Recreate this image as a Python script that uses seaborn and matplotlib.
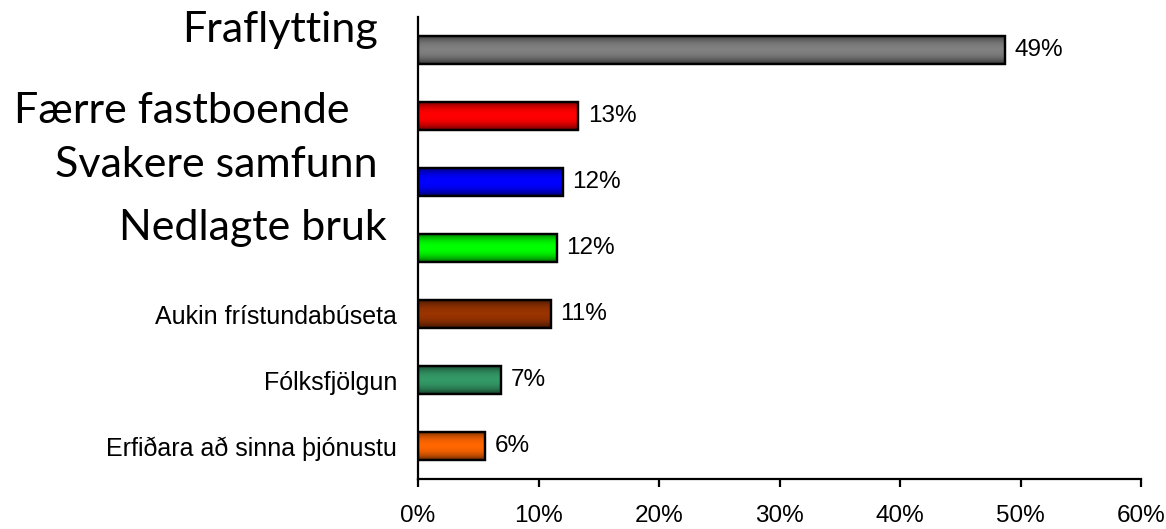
import matplotlib
matplotlib.use('Agg')
import matplotlib.pyplot as plt
import seaborn as sns
import pandas as pd
import numpy as np

# Data (top to bottom)
categories = ['Fraflytting', 'Færre fastboende', 'Svakere samfunn', 'Nedlagte bruk',
              'Aukin frístundabúseta', 'Fólksfjölgun', 'Erfiðara að sinna þjónustu']
shares = [48.7, 13.3, 12.0, 11.5, 11.0, 6.9, 5.6]
value_labels = ['49%', '13%', '12%', '12%', '11%', '7%', '6%']
bar_colors = ['#808080', '#FF0000', '#0000FF', '#00FF00', '#993300', '#339966', '#FF6600']
x_ticks = [0, 10, 20, 30, 40, 50, 60]

# the top four labels are big overlaid text boxes, the rest are normal tick labels
big_labels = categories[:4]
big_right = [378, 350, 378, 387]      # right edge (px)
big_base = [42, 123, 177, 240]        # baseline (px)

sns.set_style('white')
plt.rcParams['font.family'] = ['Liberation Sans', 'DejaVu Sans']
plt.rcParams['text.color'] = 'black'
plt.rcParams['xtick.color'] = 'black'
plt.rcParams['ytick.color'] = 'black'

W, H = 1166, 529
fig = plt.figure(figsize=(W / 100, H / 100), dpi=100)
ax = fig.add_axes([418 / W, 1 - 479 / H, (1141 - 418) / W, (479 - 17) / H])

df = pd.DataFrame({'category': categories, 'share': shares})
sns.barplot(data=df, x='share', y='category', hue='category', palette=bar_colors,
            orient='h', width=0.43, edgecolor='black', linewidth=1.6,
            saturation=1, legend=False, ax=ax)

# shading to mimic the gradient fill of the original bars
t = np.linspace(-1, 1, 64)
alpha = 0.6 * np.abs(t) ** 2.2
shade = np.zeros((64, 1, 4))
shade[..., 3] = alpha[:, None]
for p in list(ax.patches):
    x0, y0 = p.get_x(), p.get_y()
    w, h = p.get_width(), p.get_height()
    im = ax.imshow(shade, extent=(x0, x0 + w, y0 + h, y0), aspect='auto',
                   interpolation='bilinear', zorder=p.get_zorder() + 0.1)
    im.set_clip_path(p)
    # redraw outline on top
    ax.add_patch(plt.Rectangle((x0, y0), w, h, fill=False, edgecolor='black',
                               linewidth=1.6, zorder=p.get_zorder() + 0.2))

ax.set_xlim(0, 60)
ax.set_ylim(6.5, -0.5)

for i, (v, lab) in enumerate(zip(shares, value_labels)):
    ax.text(v + 0.8, i, lab, va='center', ha='left', fontsize=17.5, color='black')

ax.set_xticks(x_ticks)
ax.set_xticklabels([f'{x}%' for x in x_ticks], fontsize=17.5)
ax.set_xlabel('')
ax.set_ylabel('')

ax.set_yticks(range(len(categories)))
ax.set_yticklabels(['' if c in big_labels else c for c in categories], fontsize=18)
ax.set_yticks(np.arange(-0.5, len(categories), 1), minor=True)
ax.tick_params(axis='y', which='major', length=0, pad=15)
ax.tick_params(axis='y', which='minor', length=6, width=1.6, direction='out', color='black')
ax.tick_params(axis='x', which='major', length=6, width=1.6, direction='out', pad=13,
               color='black', bottom=True)

for side in ['top', 'right']:
    ax.spines[side].set_visible(False)
for side in ['left', 'bottom']:
    ax.spines[side].set_color('black')
    ax.spines[side].set_linewidth(1.6)

for lab, xr, yb in zip(big_labels, big_right, big_base):
    fig.text(xr / W, 1 - yb / H, lab, ha='right', va='baseline',
             fontsize=31, family=['Lato', 'DejaVu Sans'], color='black')

fig.savefig('out.png', dpi=100)
